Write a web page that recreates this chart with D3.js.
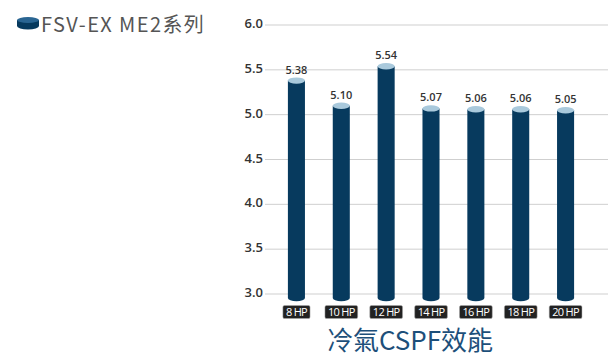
<!DOCTYPE html>
<html><head><meta charset="utf-8">
<script src="https://cdn.jsdelivr.net/npm/d3@7"></script>
<style>body{margin:0;background:#fff}svg{display:block}</style>
</head><body>
<script>
const categories = ["8 HP","10 HP","12 HP","14 HP","16 HP","18 HP","20 HP"];
const values = [5.38,5.10,5.54,5.07,5.06,5.06,5.05];
const yTicks = [3.0,3.5,4.0,4.5,5.0,5.5,6.0];
const seriesName = "FSV-EX ME2系列";
const chartTitle = "冷氣CSPF效能";

const W = 608, H = 356;
const barColor = "#073a5e", capColor = "#a9c9dc";
const svg = d3.select("body").append("svg").attr("width", W).attr("height", H);

const x = d3.scaleBand().domain(categories).range([274, 588]).paddingInner(0.62).paddingOuter(0.31);
const y = d3.scaleLinear().domain([3, 6]).range([294, 25]);

// grid
svg.append("g").selectAll("line").data(yTicks).join("line")
  .attr("x1", 265).attr("x2", 608)
  .attr("y1", d => y(d)).attr("y2", d => y(d))
  .attr("stroke", "#cfcfcf").attr("stroke-width", 1);

// y axis labels
const yAxis = d3.axisLeft(y).tickValues(yTicks).tickFormat(d3.format(".1f")).tickSize(0).tickPadding(0);
const ga = svg.append("g").attr("transform", "translate(263,0)").call(yAxis);
ga.select(".domain").remove();
ga.selectAll("text").attr("font-family", "'Open Sans', sans-serif").attr("font-size", 13)
  .attr("font-weight", 600).attr("fill", "#333").attr("dy", "0.2em");

// cylinders
const rx = x.bandwidth() / 2, ry = 3.2;
const bars = svg.append("g").selectAll("g").data(categories.map((c, i) => ({c, v: values[i]}))).join("g");
bars.append("path")
  .attr("d", d => {
    const l = x(d.c), r = l + x.bandwidth(), top = y(d.v), bot = y(3) + 4;
    return `M${l},${top} L${l},${bot} A${rx},${ry} 0 0 0 ${r},${bot} L${r},${top} Z`;
  })
  .attr("fill", barColor);
bars.append("ellipse")
  .attr("cx", d => x(d.c) + rx).attr("cy", d => y(d.v))
  .attr("rx", rx).attr("ry", ry).attr("fill", capColor);

// value labels
bars.append("text")
  .attr("x", d => x(d.c) + rx).attr("y", d => y(d.v) - 7)
  .attr("text-anchor", "middle").attr("font-family", "'Open Sans', sans-serif")
  .attr("font-size", 11).attr("font-weight", 600).attr("fill", "#333")
  .text(d => d.v.toFixed(2));

// category tags
const tags = svg.append("g").selectAll("g").data(categories).join("g")
  .attr("transform", d => `translate(${x(d) + rx},312)`);
tags.append("text")
  .attr("text-anchor", "middle").attr("dy", "0.36em")
  .attr("font-family", "'Open Sans', sans-serif").attr("font-size", 11)
  .attr("letter-spacing", -0.7).attr("fill", "#fff").text(d => d)
  .each(function() {
    const b = this.getBBox();
    d3.select(this.parentNode).insert("rect", "text")
      .attr("x", b.x - 3).attr("y", -6.5).attr("width", b.width + 5).attr("height", 13)
      .attr("rx", 1.5).attr("fill", "#222").attr("stroke", "#aaa").attr("stroke-width", 0.5);
  });

// title
svg.append("text").attr("x", 410).attr("y", 350).attr("text-anchor", "middle")
  .attr("font-family", "'Noto Sans CJK TC', 'Noto Sans', sans-serif").attr("font-size", 26)
  .attr("fill", "#1d4f7a").text(chartTitle);

// legend
const lg = svg.append("g").attr("transform", "translate(17,17)");
lg.append("path").attr("d", "M0,3 L0,9 A11,3.5 0 0 0 22,9 L22,3 Z").attr("fill", barColor);
lg.append("ellipse").attr("cx", 11).attr("cy", 3).attr("rx", 11).attr("ry", 3).attr("fill", "#2a6592");
lg.append("text").attr("x", 24).attr("y", 15)
  .attr("font-family", "'Noto Sans CJK TC', 'Noto Sans', sans-serif").attr("font-size", 20)
  .attr("letter-spacing", 1.4).attr("fill", "#555").text(seriesName);
</script>
</body></html>
